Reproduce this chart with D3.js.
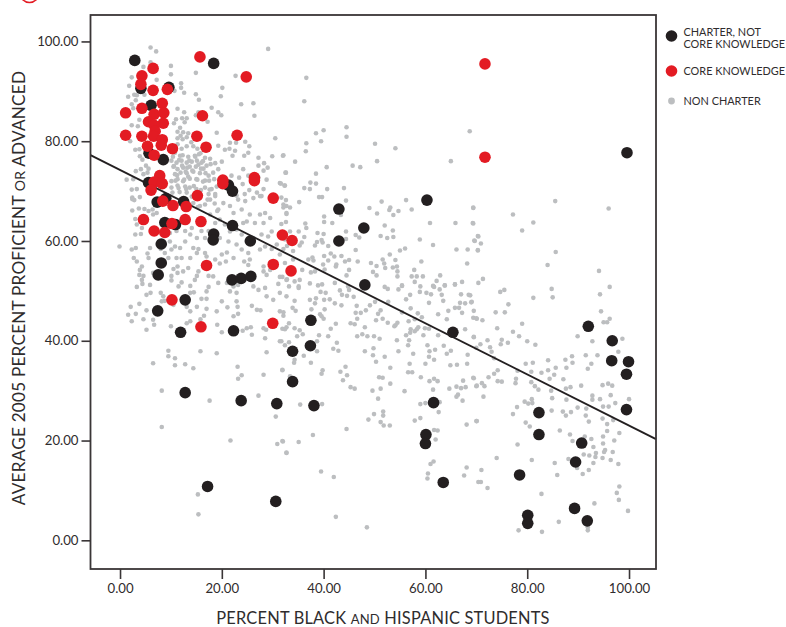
<!DOCTYPE html>
<html>
<head>
<meta charset="utf-8">
<script src="https://cdn.jsdelivr.net/npm/d3@7"></script>
<style>
  html, body { margin: 0; padding: 0; background: #fff; overflow: hidden; }
  text { font-family: "Lato", sans-serif; font-weight: 400; fill: #2f2c2d; }
</style>
</head>
<body>
<svg id="chart" width="786" height="627"></svg>
<script>
// values: [percent black and hispanic, percent proficient]
let core_knowledge = [[15.7,96.9],[24.8,92.9],[6.5,94.6],[4.3,93.1],[4.1,91.4],[6.5,90.2],[9.3,90.4],[8.3,87.6],[4.3,86.6],[1.1,85.7],[6.7,85.4],[8.6,85.7],[16.2,85.1],[5.6,83.9],[8.5,83.6],[6.7,83.2],[6.9,82],[1.1,81.2],[4.3,81],[6.6,81],[8.3,80.3],[15.1,81],[23,81.2],[8.1,79.2],[5.4,79],[10.3,78.5],[16.9,78.8],[6.7,77.2],[7.8,73.1],[20.2,72.2],[20.2,71.5],[26.4,72.7],[26.4,72.1],[6.7,71.8],[8.3,71.5],[6.1,70.2],[15.2,69.1],[30.1,68.6],[8.4,68],[10.4,67.1],[13,66.9],[4.6,64.3],[12.8,64.3],[15.9,63.9],[10.2,63.5],[6.7,62],[8.8,61.7],[31.9,61.2],[33.8,60.1],[17,55.1],[30.1,55.3],[33.6,54],[10.2,48.2],[15.9,42.8],[30,43.5],[71.7,95.5],[71.7,76.8]];

let charter_other = [[2.9,96.2],[18.4,95.6],[9.6,90.8],[4.1,90.6],[6.1,87.2],[5.7,77.6],[8.5,76.3],[5.6,71.7],[21.3,71.2],[22.1,70],[7.3,67.8],[9,68.5],[12.5,67.9],[8.8,63.7],[10.9,63.3],[22.1,63.1],[18.4,61.4],[18.3,60.2],[25.6,60],[8.1,59.4],[8.1,55.6],[7.5,53.2],[22,52.2],[23.8,52.5],[25.7,52.9],[7.4,46],[12.8,48.2],[11.9,41.7],[22.3,42],[12.8,29.6],[23.8,28],[30.8,27.4],[17.2,10.8],[30.6,7.8],[43,66.4],[47.9,62.6],[43,60],[60.3,68.2],[48.1,51.2],[37.5,44.1],[37.4,39],[33.9,37.9],[33.9,31.8],[38.1,27],[65.4,41.7],[61.6,27.6],[60.1,21.2],[60,19.4],[63.5,11.6],[92,42.9],[96.7,40],[96.6,36],[99.9,35.8],[99.5,33.3],[99.5,26.2],[82.3,25.6],[82.3,21.2],[90.7,19.5],[89.5,15.7],[78.5,13.1],[89.3,6.4],[91.8,3.9],[80.1,5],[80.1,3.4],[99.6,77.7]];

let gray_top_left = [[6,98.8],[7.1,98],[29.1,98.5],[4.6,94.9],[6,95.8],[10,95.1],[10,93.4],[2.3,92.8],[7.2,92.3],[14.9,93.7],[22.7,93.1],[1.8,91.1],[12,91.6],[12,90.7],[20.1,90.7],[2.8,89.3],[1.6,88.9],[3.3,89.2],[4.8,89.3],[10.7,90.1],[12.6,89.7],[14.9,89.4],[19.8,89],[15.5,88.3],[3.1,88.2],[2.3,87.4],[2.6,86.6],[23.8,87.4],[26.2,87.6],[11.3,86.5],[18,86.7],[19.3,85.8],[19.9,85.2],[12.6,85.8],[15.4,85.8],[14.9,85.2],[26.4,85.1],[3.8,84.3],[11,84.4],[12.2,84.6],[13.1,84.6],[12.7,83.8],[10.6,83.6],[17.2,83.9],[11.8,82.7],[11.3,81.9],[12.4,81.8],[13.4,81.6],[2.3,83.2],[3.5,83],[2,80],[19,81.7],[30.5,80.6],[11.9,81.1],[11.3,80.6],[12.3,80.4],[13.1,80.8],[14,79.8],[11.3,79.4],[12.1,78.5],[13.1,79],[14.4,79],[15.2,78.5],[19.3,79.1],[20.6,78.3],[21.5,78.5],[21.6,79.7],[22.8,79.7],[24.6,79.9],[25.4,79],[22.6,78.1],[22.1,77.1],[25.2,77.7],[24.4,77.1],[3,78.3],[3.8,78.4],[3.9,77],[4.4,76.3],[5.1,75.1],[4.1,74.4],[5.6,74.5],[3.1,74],[2.6,72.4],[1.3,72.3],[4.6,73.4],[5.4,73.7],[10.8,77.7],[11.8,77.1],[13.4,76.9],[14.7,77.1],[15.8,77.6],[16.7,76.7],[17.7,76.5],[10.1,76.1],[11.1,75.7],[12.1,76.1],[13.1,75.7],[14.1,75.9],[15.1,76.1],[16,75.7],[17,75.1],[17.8,75.4],[10.5,74.9],[11.3,74.4],[12.4,74.7],[13.7,74.9],[14.9,74.9],[16.4,74.5],[18.7,75.6],[20,75.9],[19.3,74.4],[18.3,73.7],[10.8,73.4],[11.9,73.7],[13.1,73.6],[14.4,73.9],[15.7,73.6],[17.4,73.1],[18.5,72.4],[10.1,72],[11.3,72.4],[12.6,72.3],[13.7,72.5],[15,72.4],[16.7,72.1],[21.9,73.1],[24.2,74.4],[27.2,76.7],[28.3,75.6],[27.2,75.1],[29,74.7],[29.9,77],[32.1,77.2],[32.6,73.7],[28.2,74.1],[25.2,73.1],[23.4,72.7],[24.1,71.4],[25.4,70.2],[27.2,72.7],[28.8,72.3],[31.4,71.6],[32.4,71.1],[28.2,70.4],[26.9,69.7],[27.5,69],[24.5,69.4],[22.9,69.1],[21.9,69.7],[10.1,70.7],[11.3,71.1],[12.8,70.9],[13.7,70.7],[15,70.4],[16.7,70.7],[18,70.4],[19,70.9],[10.3,69.7],[11.7,69.8],[13.1,69.7],[17.4,69.4],[18.7,69.4],[2.3,70.3],[3.3,70.4],[2.4,68.7]];

// the tight clump just above the fit line
let gray_clump = [[10.4,76.9],[11.6,76.2],[12.3,77.2],[13.6,76.1],[14.8,76.9],[15.5,77.4],[10.6,75],[12.2,75.1],[13.2,74.7],[15.4,75.3],[16.3,76],[11.2,73.2],[12.9,73.9],[14.2,74.1],[15.9,74.5],[16.8,73.6],[10.9,72.1],[12.4,72],[13.4,72.9],[15.2,72.3],[16.3,71.9],[17.5,72.1],[11.5,70.6],[13,70.4],[14.5,71],[15.9,70.2],[17.6,70.3],[14.1,68.9],[17.2,68.3],[18.6,67.5],[15.3,66.8],[19.1,66],[13.2,67.7]];

let gray_mid_left = [[2.4,68.4],[2.8,68.2],[3.9,68.8],[2.4,66.1],[3.7,66.5],[4.8,66.4],[5.6,66],[6.4,66.3],[7.2,65.6],[6.5,65.3],[3,64.4],[3.3,63.3],[4.3,62.6],[3,61.3],[4.1,61.4],[-0.1,58.9],[2.3,58.3],[3.1,58.6],[2.7,56.6],[3.3,55.9],[5.4,57.5],[5.9,58.6],[5.6,56.6],[4.3,54.9],[3.9,54.2],[3.8,53.2],[4.6,53],[6.5,53.6],[4.3,52.2],[3.3,50.8],[4.4,51.4],[5.9,51.2],[5.2,49.2],[6,49.6],[2.1,46.8],[3.8,47.4],[1.6,45.2],[3.1,45.4],[2.3,43.9],[4.6,44.3],[5.2,46.1],[6.5,44.2],[6.7,43.2],[5.2,42.2],[10,42.9],[13.1,43.5],[13.8,43.9],[16.5,45],[17,46.4],[15.8,44.3],[19,45.9],[19.1,43.2],[20,41.7],[13.8,45.9],[13.1,46.8],[15.1,46.8],[8,49.6],[8.5,48.9],[8.8,48],[8.2,47.9],[10.5,47.2],[16,48.4],[17,48.4],[20,47.9],[21.1,46.7],[22.3,44.9],[23.2,45.4],[23.1,46.8],[22.9,47.9],[25.9,47],[26.9,46.2],[27.6,46.1],[28.2,42.5],[28.7,42.2],[25.7,42.7],[24.9,42.5],[24.1,42],[25.9,41.2],[28.5,40.5],[31.4,39.9],[32.7,42.7],[31.4,45.9],[32.1,45],[13.8,49.6],[14.5,49.7],[13.8,51],[11.5,50.9],[12.1,51.7],[10.1,52.1],[10.1,53],[10.5,54.4],[11.3,54.9],[11.3,53.6],[12.4,53.9],[13.4,54.6],[15.1,53],[14.7,52.2],[15.4,53.9],[17.4,53],[18.3,52.9],[19.3,51.6],[21,51.6],[17.4,50.8],[17,49.9],[22.9,49.6],[21.6,49.9],[22.3,50.9],[23.2,51.2],[20.8,55.9],[19.6,55.5],[20,57.3],[21,57.7],[22.3,56.6],[24.4,55.9],[25.5,56.3],[25.2,55.2],[28.2,54.9],[28.2,53.9],[28.8,53.2],[29.5,54.2],[31.1,51.4],[31.4,52.8],[32.7,52.2],[28.5,50.6],[28.8,48.9],[30.1,48.2],[31.4,49.6],[32.7,48.9],[26.2,50.9],[27.2,50.2],[8,58.4],[8.8,57.6],[9.5,56.6],[10.1,58.3],[10.8,58.9],[11.8,58.6],[12.8,59.9],[14.4,58.6],[15.4,58.4],[16.7,57.6],[11.1,56.6],[12.1,56.6],[13.8,56.6],[17,56.9],[18.7,56.3],[9.8,59.9],[15.1,57.6],[7.5,55.9],[19.6,60.6],[21.3,59.9],[22.9,59.3],[23.9,58.3],[25.2,57.6],[27.5,58.3],[28.5,58.9],[29.8,58.4],[30.8,59.3],[32.1,58.4],[32.4,55.6],[26.2,60.6],[27.8,61.3],[29.1,60.9],[29.8,61.9],[27.5,65.3],[28.5,65.6],[29.5,64.6],[28.2,63.6],[26.5,63.6],[24.9,63.9],[25.5,65.3],[23.9,66.3],[22.3,65.6],[20.3,67.6],[21.6,67],[23.2,68.3],[24.6,68],[26.2,68.6],[27.8,69],[32.1,67.3],[32.7,65.6],[32.4,60.3],[18.7,69],[17.7,68.3],[16.7,67.3],[15.7,67],[14.4,67.6],[18.7,63.6],[19.6,64.3],[20.6,63.3],[17.7,65.3],[19.3,66.3],[16,62],[17.4,62],[14.1,62.6],[12.8,62],[11.1,62],[9.8,61.6],[13.8,61.3],[15.1,60.6],[16.7,60.6],[22.9,62.3],[23.9,61.3],[24.2,63.6],[21.6,61.9],[33.4,61.9]];

let gray_low_left = [[6.5,35.5],[9.5,38],[9.5,36.9],[10.8,36.5],[10.8,35.1],[12.8,35.3],[14.4,34.5],[15.8,37.9],[19,37.5],[23.1,34.8],[23.9,33.1],[23.2,32.4],[28.2,33.2],[28.8,37.7],[31.9,34.1],[8.2,30],[17.6,28],[27.2,29],[30.6,24.8],[8.2,22.7],[21.7,20],[30.9,19.3],[32,19.8],[32.7,17.5],[15.3,9.2],[15.4,5.2],[42.4,4.7],[48.5,2.6]];

let gray_top_mid = [[36.6,92.7],[36.2,88],[38.5,81.6],[40,82.2],[44.5,82.8],[44.5,80.9],[39.5,80],[36.6,79.6],[36.5,78],[50.1,79.5],[54.1,78.6],[68.7,82],[65,76],[50.5,76],[45.7,75.1],[47.2,74.8],[32,77.1],[34.4,75.9],[40.6,74.8],[32.5,73.7],[38.5,73.5],[37.4,71.7],[38.5,71.5],[31.6,71.5],[32.3,71.1],[36.2,70.6],[37.3,70.4],[40.7,70.4],[44,70.6],[39.1,68.8],[39.7,68.8],[44.4,68.1],[35.2,67.8],[32.6,68.2],[31.7,68.7],[51.4,67.9],[56.2,68.2],[49,66.6],[53.1,66.7],[52.9,66.2],[54.7,66],[57.3,66.3],[50.5,65.5],[53.7,65.2],[69.4,66.7],[60.9,63.6],[65.9,63.6],[69.3,63.6],[52,63.1],[53.6,62.1],[51.2,61],[52.5,60.6],[53.7,60.8],[58.9,60.3],[46.3,61.2],[47,60.7],[44.4,61.9],[44.4,60.4],[41.7,63.6],[40.1,63.8],[40.1,64.9],[43.4,65.2],[36.4,63.5],[36.6,62.6],[35.1,61.9],[38.8,61.6],[40,61.4],[36.2,60.8],[35.7,59.7],[35.3,59.1],[32.7,67],[32.1,66.7],[33.4,66.7],[32.7,65.4],[32.6,63.8],[31.7,63.4],[32.8,59],[38.3,59.1],[38.7,59.8],[39.6,60.2],[39.8,59.7],[40.9,59],[41.4,57.5],[42.1,56.9],[40.1,57],[43.5,57],[46.3,58.2],[53,57.3],[55,58.1],[56,58.5],[61.5,59.2],[66.1,58.3],[68.3,58.3],[70.3,58.2],[69.6,60.1],[70.3,61],[59.2,55.9],[68.2,55.5],[54.1,56.2],[49.3,55.6],[51.6,56.3],[51.9,55.5],[50.4,55],[46.7,55.9],[45,56.2],[44.2,55.9],[40.9,56.1],[39.9,55.3],[38,56.1],[37.8,56.7],[37,56.3],[42.5,55.3],[42.4,54.9],[45,54.2],[40.2,54.3],[38.3,53.9],[37.5,53.7],[35.8,54.2],[44.5,53.1],[52.1,54.6],[53.6,54.7],[54.4,54.9],[54.5,53.9],[57.8,54.2],[49.7,53.8],[50.4,53.1],[54.5,52.9],[57.3,52.9],[58.3,52.9],[59.5,52.9],[62.9,53.1],[62.2,52],[63.8,51.1],[61.5,51],[65.8,51.3],[67.2,51.8],[59,50.9],[55.4,51],[52,50.8],[35.3,52.2],[34.3,51.9],[32.8,52.3],[31.9,52.8],[37.3,51.5],[38.9,51.1],[39.7,51.3],[33.2,50.9],[35.1,50.9],[42.2,51.6],[44.8,50.9],[34,56.3],[34,58],[31.4,57.3]];

let gray_low_mid = [[35.1,50.6],[39.4,49.8],[40.4,49.6],[43.2,50.1],[45,50.2],[43.6,49.2],[45.9,48.8],[44.6,49],[34.3,48],[37.3,48.2],[38.5,48.5],[40.1,48.2],[41.2,48.3],[42.2,47.5],[43.5,47.1],[33.9,46.6],[34.5,46],[38.3,47.5],[37.6,46.3],[40.2,46.3],[39.3,45.3],[40,44.4],[39.6,44.9],[32.1,45.7],[46.5,47],[46.3,45.6],[47.3,45.6],[48.3,46.1],[49.1,47.1],[50.1,47.8],[51.2,46.1],[50.7,45.4],[46.6,44.4],[45.3,43.5],[46.1,43.3],[48.1,42.7],[42.4,43.4],[41.4,42.4],[40.9,40.9],[39.1,41.1],[33.2,43.5],[32.4,42.3],[31.9,42.4],[34.3,42.5],[35.3,42.1],[35.9,41.3],[34.8,40.9],[31.7,39.9],[33.2,39.7],[32.4,39.1],[38.7,39.9],[42.6,39.6],[41.9,38.4],[42.9,38],[38.7,37.9],[36.1,37],[34.3,36.2],[34.2,35.6],[37.5,35.6],[31.9,34.2],[39.8,34.1],[39.6,33.4],[33.4,32.9],[43.3,33.8],[44.3,34.8],[44.6,33.1],[43.8,32.1],[45.3,30.7],[46.1,30.4],[46.6,40.9],[47.6,41.3],[48.6,40.9],[49.9,40.9],[51,40.4],[48.1,37.9],[49.8,38.5],[49.7,37.1],[50.3,35.8],[52,36.8],[53.1,34.6],[50.9,32.7],[51.6,32.6],[53.1,31.4],[51.2,30.4],[49.6,30],[50.7,28.4],[55.9,29.9],[59.1,32.7],[61.5,30.2],[60.8,31.9],[61.7,32.4],[62.4,31.9],[67.4,32],[69.4,32.6],[64.7,30.4],[66.1,30.8],[67,30.5],[67.9,30.7],[70,30.9],[66.4,29.2],[66.1,28.8],[67.3,28],[59,27.3],[60,27.5],[62.8,27.7],[62.6,25.7],[59,24.5],[57.9,24],[68.1,23.2],[70,23.9],[61.7,22.1],[62.4,22],[62,20.2],[61.6,15.8],[61,15.3],[60.5,13.4],[60.4,12.4],[68.1,14.6],[67.6,13],[70.4,11.7],[49.9,25.3],[51.7,25.8],[51.7,25],[48.8,24.2],[51.2,23.7],[51.8,23],[53,23],[44.5,22.3],[39.7,27.3],[35.4,27.2],[37.9,21.1],[31.9,19.9],[35.1,19.7],[32.7,17.6],[39.5,13.8],[42,12.7],[54.7,50.3],[55.4,51.1],[52.6,50.4],[52.7,47.8],[56.2,48.3],[57,49.2],[57.9,51.8],[58.9,49.8],[60.2,49.6],[61.1,49.3],[61.7,50.8],[62.8,50.3],[63.2,49.2],[63.5,48],[60.7,47.6],[58.5,45.5],[59.3,44.7],[57.9,44.3],[56.7,43.9],[57.1,46.5],[55.4,45.7],[52.6,43.6],[51.6,44.4],[50.3,44.1],[54.1,43.1],[54.5,43.6],[53.9,42.9],[57.1,42.3],[58.3,42.3],[58.6,42.7],[59.9,42.5],[60.7,42.4],[56.2,41.1],[57,41.6],[57.9,41.9],[59.6,41.1],[62.5,41.1],[54.4,40.1],[56.8,40.1],[56.6,39.1],[60.4,39.1],[63.6,39],[54.7,37.9],[57.6,37.4],[60.8,37.9],[61.9,38.2],[60.7,36.8],[61.7,36.2],[64.2,37.4],[65,38],[68.3,37.2],[60,35.4],[56.9,35.4],[64.9,35.1],[66.2,35.2],[68.2,35.4],[56.6,33.7],[57.4,33.7],[62.5,45.3],[64.2,44.3],[64.5,46],[65.8,46.6],[66.8,47.6],[67.8,47.5],[69.1,47.8],[67,49.3],[68.5,49.2],[65.8,51.3],[63.8,51.1],[66.6,46.6],[67.2,45.6],[69.4,44.6],[70,44.5],[67.8,42.3],[69.5,40.8],[70,38.6],[70.4,51.6]];

let gray_right = [[69.4,66.6],[69.4,63.5],[77.2,65.3],[81.2,63.7],[79,62.1],[85.5,68],[96,66.5],[70.4,60.9],[69.7,60],[70.9,59.5],[70.3,58.1],[85.6,57.8],[84,55.2],[94.1,54],[71.3,52.4],[75.5,50.2],[74.7,49.8],[84.8,50.4],[85,48.7],[81.2,48.6],[96.2,50.8],[94.3,49.3],[76.3,47.3],[68.8,49.1],[69,47.7],[69.5,46],[73.8,45.7],[75.6,45.7],[94.5,45.9],[70.1,44.4],[71.2,44.1],[96.2,44.4],[95,43.7],[95.7,43.7],[79,43.4],[74.1,42.5],[77.2,41.8],[78.4,40.9],[69.5,40.7],[72.2,40.1],[75,40.2],[74.8,39.3],[76.2,39.6],[80,39.9],[81.6,39.2],[89.9,40.9],[92.8,39.9],[98.7,40.4],[70.8,39.3],[72.7,38.7],[73,37.8],[73.5,36.5],[97.9,37.8],[91.5,37.1],[93.8,37.1],[88.8,36.9],[87.5,36.2],[88.9,35.6],[84.1,36.1],[79.7,35.4],[81.1,35.6],[92.6,35.4],[91.9,34.4],[85.6,34.6],[87.7,34.6],[84.1,34.1],[74.2,34.1],[73.5,33.4],[72.4,32.7],[78.1,34],[80.8,33.8],[82.8,33.6],[85.3,33.2],[77.8,32.4],[84.4,32.4],[87.1,32.3],[69.5,32.5],[70.1,31],[71.1,31.5],[71.6,30.9],[74.2,31.9],[75,31.8],[77.7,31.5],[71.4,28.8],[80.8,31.7],[81.5,30.9],[82.2,30.2],[84.7,30],[88.5,30.7],[87.6,30.4],[90.6,31],[94.8,31.1],[95.9,31.4],[96.7,31],[87.7,28.2],[84.9,28.5],[79.5,27.8],[80.2,27.4],[81,27.5],[80.9,28.3],[78,26.7],[77.2,25.3],[70.1,23.9],[84.8,26],[87.6,25],[87,25.8],[88.6,25.7],[89.9,26.6],[91.6,26.4],[92.8,29],[92.8,28.2],[94.3,28.3],[94.9,26.8],[96,26.8],[96.4,29.1],[97.3,27.5],[100,28.3],[91.5,25],[92.1,23.8],[94.8,24.4],[95.7,23.3],[96.9,24.1],[95.7,21.9],[98.1,21.5],[79.7,23.6],[80.5,22.8],[86.4,22],[88.4,21.2],[91.3,20.8],[92.6,20.3],[88.9,19.9],[94.9,20.8],[94.9,19.4],[97.1,20],[93,18.7],[95.3,18.1],[95.1,17.7],[96.8,17.7],[91.1,17.2],[92.2,17],[93.5,17.5],[93.4,16.7],[94.8,16.5],[78.1,19.2],[74,16.5],[80.9,16.1],[88.1,16.3],[85.4,15.5],[93,15.5],[96.4,16.1],[97.9,15.3],[71,14.1],[89.8,14.5],[92.1,14.1],[90.9,13.3],[85.9,13.1],[70.9,11.7],[72.2,10.5],[98.1,10.8],[97.6,9.5],[98,8.1],[82.8,9.3],[93.2,7.4],[99.8,5.9],[86.2,3.7],[78.3,2],[82.9,1.7],[91.9,2],[91.9,2.6]];

let non_charter = [].concat(gray_top_left, gray_clump, gray_mid_left, gray_low_left, gray_top_mid, gray_low_mid, gray_right);

let fit_line = [[-5.8, 77.2], [105.3, 20.3]];
let x_ticks = [0, 20, 40, 60, 80, 100],
    y_ticks = [0, 20, 40, 60, 80, 100];
let legend_items = [
  {label: ["CHARTER, NOT", "CORE KNOWLEDGE"], color: "#231f20", r: 5.8, cy: 36},
  {label: ["CORE KNOWLEDGE"], color: "#e31b23", r: 5.8, cy: 71},
  {label: ["NON CHARTER"], color: "#bcbec0", r: 3.4, cy: 101}
];

let svg = d3.select("#chart");

let x = d3.scaleLinear().domain([-5.8, 105.3]).range([90.5, 656]),
    y = d3.scaleLinear().domain([-5.75, 105.3]).range([569, 15]);

// clipped logo remnant at the top edge
svg.append("circle")
  .attr("cx", 29.5).attr("cy", -7).attr("r", 9.5)
  .attr("fill", "none").attr("stroke", "#e31b23").attr("stroke-width", 1.6);

function draw_points(data, color, r) {
  svg.append("g")
    .selectAll("circle")
    .data(data).enter()
    .append("circle")
    .attr("cx", d => x(d[0]))
    .attr("cy", d => y(d[1]))
    .attr("r", r)
    .attr("fill", color);
}

draw_points(non_charter, "#bcbec0", 2.3);

svg.append("path")
  .attr("d", d3.line().x(d => x(d[0])).y(d => y(d[1]))(fit_line))
  .attr("fill", "none")
  .attr("stroke", "#231f20")
  .attr("stroke-width", 1.9);

draw_points(charter_other, "#231f20", 5.8);
draw_points(core_knowledge, "#e31b23", 5.8);

// frame
svg.append("rect")
  .attr("x", 90.5).attr("y", 15).attr("width", 565.5).attr("height", 554)
  .attr("fill", "none").attr("stroke", "#3a3637").attr("stroke-width", 1.8);

let x_axis = svg.append("g")
  .attr("transform", "translate(0,569)")
  .call(d3.axisBottom(x).tickValues(x_ticks).tickFormat(d3.format(".2f")).tickSize(10).tickPadding(5));
let y_axis = svg.append("g")
  .attr("transform", "translate(90.5,0)")
  .call(d3.axisLeft(y).tickValues(y_ticks).tickFormat(d3.format(".2f")).tickSize(9).tickPadding(3));

[x_axis, y_axis].forEach(a => {
  a.select(".domain").remove();
  a.selectAll("line").attr("stroke", "#3a3637").attr("stroke-width", 1.6);
  a.selectAll("text").attr("font-size", 13.2).style("font-family", '"Lato", sans-serif').style("fill", "#2f2c2d");
});

// titles: small caps words are just set a bit smaller
svg.append("text")
  .attr("transform", "translate(25,288) rotate(-90)")
  .attr("text-anchor", "middle")
  .attr("font-size", 17.2)
  .attr("letter-spacing", 0.2)
  .call(t => {
    t.append("tspan").text("AVERAGE 2005 PERCENT PROFICIENT ");
    t.append("tspan").attr("font-size", 14).text("OR");
    t.append("tspan").text(" ADVANCED");
  });

svg.append("text")
  .attr("x", 383).attr("y", 623.5)
  .attr("text-anchor", "middle")
  .attr("font-size", 16.4)
  .attr("letter-spacing", 0.2)
  .call(t => {
    t.append("tspan").text("PERCENT BLACK ");
    t.append("tspan").attr("font-size", 13).text("AND");
    t.append("tspan").text(" HISPANIC STUDENTS");
  });

// legend
let legend = svg.append("g");
legend.selectAll("circle")
  .data(legend_items).enter()
  .append("circle")
  .attr("cx", 671.5)
  .attr("cy", d => d.cy)
  .attr("r", d => d.r)
  .attr("fill", d => d.color);

legend_items.forEach(d => {
  d.label.forEach((line, i) => {
    let base = d.label.length > 1 ? d.cy - 0.5 + i * 12 : d.cy + 4;
    legend.append("text")
      .attr("x", 683.5).attr("y", base)
      .attr("font-size", 10.9)
      .text(line);
  });
});
</script>
</body>
</html>
